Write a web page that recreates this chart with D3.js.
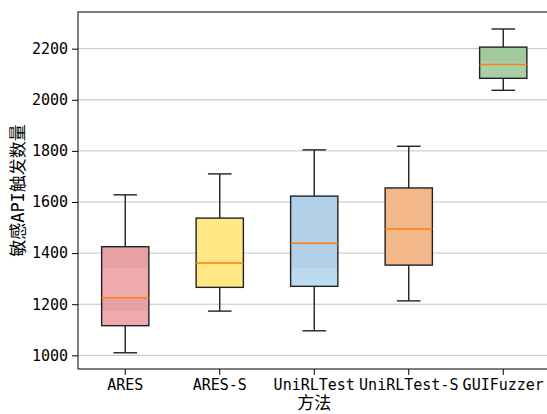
<!DOCTYPE html>
<html>
<head>
<meta charset="utf-8">
<script src="https://cdn.jsdelivr.net/npm/d3@7"></script>
<style>
  body { margin: 0; background: #fff; }
  svg { display: block; }
</style>
</head>
<body>
<div class="chart"></div>
<script>
const methods = ["ARES", "ARES-S", "UniRLTest", "UniRLTest-S", "GUIFuzzer"];
const whiskerLow = [1010, 1173, 1096, 1213, 2037];
const q1 = [1116, 1266, 1270, 1353, 2084];
const median = [1225, 1361, 1439, 1494, 2138];
const q3 = [1425, 1537, 1623, 1655, 2206];
const whiskerHigh = [1628, 1710, 1804, 1818, 2277];
const yTicks = [1000, 1200, 1400, 1600, 1800, 2000, 2200];

const colors = ["#eeaaad", "#ffe783", "#b3d0e9", "#f2b88a", "#a6cca6"];

const data = methods.map((m, i) => ({
  name: m,
  lo: whiskerLow[i], q1: q1[i], med: median[i], q3: q3[i], hi: whiskerHigh[i],
  color: colors[i]
}));

const margin = ({top: 12, left: 78});
const width = 472.5;
const height = 357;
const font = "'DejaVu Sans Mono', 'Noto Sans CJK SC', monospace";

const svg = d3.select(".chart")
  .append("svg")
  .attr("width", 547)
  .attr("height", 414);

// odd shading bands seen in the picture
const defs = svg.append("defs");
const g1 = defs.append("linearGradient").attr("id", "band0").attr("x1", 0).attr("y1", 0).attr("x2", 0).attr("y2", 1);
[[0, "#e7a0a3"], [0.266, "#e7a0a3"], [0.266, "#eeaaad"], [0.65, "#eeaaad"], [0.65, "#e7a0a3"], [0.82, "#e7a0a3"], [0.82, "#eeaaad"], [1, "#eeaaad"]]
  .forEach(s => g1.append("stop").attr("offset", s[0]).attr("stop-color", s[1]));
const g2 = defs.append("linearGradient").attr("id", "band2").attr("x1", 0).attr("y1", 0).attr("x2", 0).attr("y2", 1);
[[0, "#b3d0e9"], [0.8, "#b3d0e9"], [0.8, "#bcdcee"], [1, "#bcdcee"]]
  .forEach(s => g2.append("stop").attr("offset", s[0]).attr("stop-color", s[1]));
const g4 = defs.append("linearGradient").attr("id", "band4").attr("x1", 0).attr("y1", 0).attr("x2", 0).attr("y2", 1);
[[0, "#a2c9a0"], [0.45, "#a2c9a0"], [0.45, "#a9cfa9"], [1, "#a9cfa9"]]
  .forEach(s => g4.append("stop").attr("offset", s[0]).attr("stop-color", s[1]));

const g = svg.append("g")
  .attr("transform", `translate(${margin.left},${margin.top})`);

const x = d3.scaleBand()
  .domain(methods)
  .range([0, width])
  .padding(0);

const y = d3.scaleLinear()
  .domain([946.5, 2343.5])
  .range([height, 0]);

// grid
g.append("g")
  .selectAll("line")
  .data(yTicks)
  .join("line")
  .attr("x1", 0)
  .attr("x2", width)
  .attr("y1", d => y(d))
  .attr("y2", d => y(d))
  .attr("stroke", "#c4c4c4")
  .attr("stroke-width", 1);

const bw = x.bandwidth() * 0.5;
const boxes = g.append("g")
  .selectAll("g")
  .data(data)
  .join("g")
  .attr("transform", d => `translate(${x(d.name) + x.bandwidth() / 2},0)`);

boxes.append("line")
  .attr("y1", d => y(d.hi)).attr("y2", d => y(d.q3))
  .attr("stroke", "#222").attr("stroke-width", 1.4);
boxes.append("line")
  .attr("y1", d => y(d.q1)).attr("y2", d => y(d.lo))
  .attr("stroke", "#222").attr("stroke-width", 1.4);
boxes.append("line")
  .attr("x1", -bw / 4).attr("x2", bw / 4)
  .attr("y1", d => y(d.hi)).attr("y2", d => y(d.hi))
  .attr("stroke", "#222").attr("stroke-width", 1.4);
boxes.append("line")
  .attr("x1", -bw / 4).attr("x2", bw / 4)
  .attr("y1", d => y(d.lo)).attr("y2", d => y(d.lo))
  .attr("stroke", "#222").attr("stroke-width", 1.4);

boxes.append("rect")
  .attr("x", -bw / 2)
  .attr("width", bw)
  .attr("y", d => y(d.q3))
  .attr("height", d => y(d.q1) - y(d.q3))
  .attr("fill", (d, i) => i === 0 ? "url(#band0)" : i === 2 ? "url(#band2)" : i === 4 ? "url(#band4)" : d.color)
  .attr("stroke", "#222")
  .attr("stroke-width", 1.4);

boxes.append("line")
  .attr("x1", -bw / 2).attr("x2", bw / 2)
  .attr("y1", d => y(d.med)).attr("y2", d => y(d.med))
  .attr("stroke", "#ff7f0e").attr("stroke-width", 1.5);

// axes
const yAxis = g.append("g")
  .call(d3.axisLeft(y).tickValues(yTicks).tickSize(6).tickPadding(4).tickFormat(d3.format("d")));
const xAxis = g.append("g")
  .attr("transform", `translate(0,${height})`)
  .call(d3.axisBottom(x).tickSize(6).tickPadding(4));

[yAxis, xAxis].forEach(a => {
  a.select(".domain").remove();
  a.selectAll(".tick line").attr("stroke", "#000");
  a.selectAll("text").attr("font-family", font).attr("font-size", 15).attr("fill", "#000");
});

// frame
g.append("rect")
  .attr("width", width)
  .attr("height", height)
  .attr("fill", "none")
  .attr("stroke", "#000")
  .attr("stroke-width", 1);

svg.append("text")
  .attr("transform", `translate(18,${margin.top + height / 2}) rotate(-90)`)
  .attr("text-anchor", "middle")
  .attr("dy", "0.35em")
  .attr("font-family", font)
  .attr("font-size", 17)
  .text("敏感API触发数量");

svg.append("text")
  .attr("x", margin.left + width / 2)
  .attr("y", 409)
  .attr("text-anchor", "middle")
  .attr("font-family", font)
  .attr("font-size", 17)
  .text("方法");
</script>
</body>
</html>
